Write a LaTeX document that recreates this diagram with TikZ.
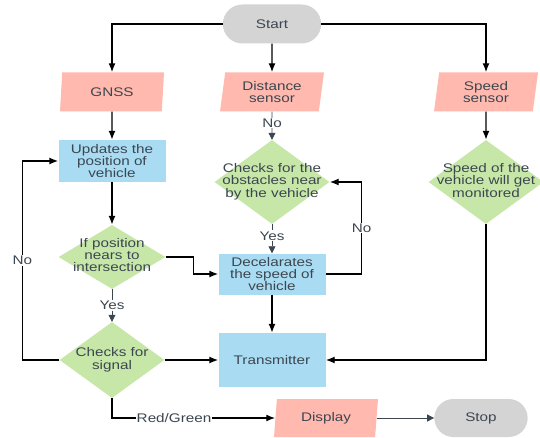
\documentclass[tikz,border=0pt]{standalone}
\usepackage{fontspec}
\setmainfont{Liberation Sans}[FakeStretch=1.22]
\usetikzlibrary{arrows.meta, shapes.geometric, shapes.misc}
\usepackage{xcolor}
\definecolor{termgray}{HTML}{D4D4D4}
\definecolor{iosalmon}{HTML}{FFB9AE}
\definecolor{procblue}{HTML}{A9DCF2}
\definecolor{decgreen}{HTML}{C7E7A9}
\definecolor{txtgray}{HTML}{3C4650}
\newcommand{\dlines}[1]{\makebox[0pt]{\begin{tabular}{@{}c@{}}#1\end{tabular}}}

\begin{document}
\begin{tikzpicture}[x=1pt, y=-1pt, >={Latex[length=9pt, width=7pt]}, font=\fontsize{12.5}{11.7}\selectfont]
	\tikzstyle{term} = [rounded rectangle, fill=termgray, minimum width=105pt, minimum height=39pt, text=txtgray]
	\tikzstyle{io} = [trapezium, trapezium left angle=76, trapezium right angle=104, trapezium stretches body, fill=iosalmon, minimum width=104pt, minimum height=39pt, inner sep=0pt, align=center, text=txtgray]
	\tikzstyle{proc} = [rectangle, fill=procblue, minimum width=107pt, inner sep=0pt, align=center, text=txtgray]
	\tikzstyle{dec} = [diamond, fill=decgreen, inner sep=0pt, text=txtgray]
	\tikzstyle{flow} = [->, line width=1.4pt, black]
	\tikzstyle{grayflow} = [-{Triangle[length=7pt, width=7pt]}, line width=0.7pt, txtgray]
	\tikzstyle{lbl} = [fill=white, inner sep=1pt, text=txtgray]

	\useasboundingbox (0,0) rectangle (540,438);

	\node[term] 	at (272, 24)	(start)		{Start};
	\node[io] 		at (112, 92)	(gnss)		{GNSS};
	\node[io] 		at (272, 92)	(dist)		{Distance\\sensor};
	\node[io] 		at (486, 92)	(speed)		{Speed\\sensor};
	\node[proc, minimum height=42pt] at (112, 161) (upd) {Updates the\\position of\\vehicle};
	\node[dec, minimum width=115pt, minimum height=84pt] at (272, 182) (obst) {\dlines{Checks for the\\obstacles near\\by the vehicle}};
	\node[dec, minimum width=115pt, minimum height=84pt] at (486, 182) (spdmon) {\dlines{Speed of the\\vehicle will get\\monitored}};
	\node[dec, minimum width=107pt, minimum height=64pt] at (112, 257) (ifpos) {\dlines{If position\\nears to\\intersection}};
	\node[proc, minimum height=41pt] at (272, 274) (decel) {Decelarates\\the speed of\\vehicle};
	\node[dec, minimum width=105pt, minimum height=76pt] at (112, 360) (signal) {\dlines{Checks for\\signal}};
	\node[proc, minimum height=54pt] at (272, 360) (trans) {Transmitter};
	\node[io, minimum height=38pt] at (326, 418) (disp) {Display};
	\node[term, minimum width=100pt, minimum height=38pt] at (481, 418) (stop) {Stop};

	% start to the three sensors
	\draw[flow] (start.west) -| (gnss.north);
	\draw[flow] (start) -- (dist);
	\draw[flow] (start.east) -| (speed.north);

	% gnss branch
	\draw[flow] (gnss) -- (upd);
	\draw[flow] (upd) -- (ifpos);
	\draw[flow] (ifpos.east) -- ++(28,0) |- (decel.west);
	\draw[grayflow] (ifpos) -- node[lbl] {Yes} (signal);
	\draw[flow] (signal.west) -- ++(-37,0) |- node[lbl, pos=0.25] {No} (upd.west);
	\draw[flow] (signal.east) -- (trans.west);
	\draw[flow] (signal.south) |- node[lbl, pos=0.69] {Red/Green} (disp.west);
	\draw[grayflow] (disp) -- (stop);

	% distance branch
	\draw[grayflow] (dist) -- node[lbl, pos=0.4] {No} (obst);
	\draw[grayflow] (obst) -- node[lbl, pos=0.4] {Yes} (decel);
	\draw[flow] (decel.east) -- ++(36,0) |- node[lbl, pos=0.25] {No} (obst.east);
	\draw[flow] (decel) -- (trans);

	% speed branch
	\draw[flow] (speed) -- (spdmon);
	\draw[flow] (spdmon.south) |- (trans.east);
\end{tikzpicture}
\end{document}
